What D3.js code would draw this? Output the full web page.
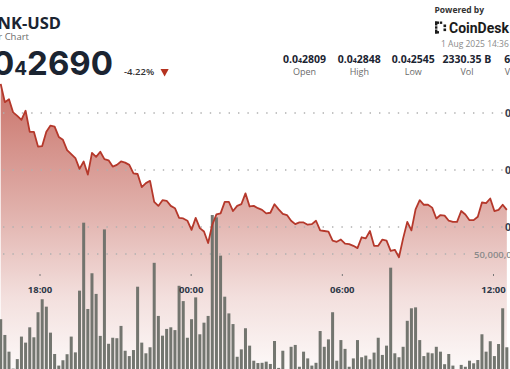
<!DOCTYPE html>
<html>
<head>
<meta charset="utf-8">
<script src="https://cdn.jsdelivr.net/npm/d3@7"></script>
<style>
  html, body { margin: 0; padding: 0; background: #fff; overflow: hidden; }
  svg { display: block; font-family: "Open Sans", "Noto Sans", sans-serif; }
</style>
</head>
<body>
<div id="chart"></div>
<script>
const width = 510, height = 369;

// header texts
const symbol = "BONK-USD";
const subtitle = "24 Hour Bar Chart";
const lastPrice = "0.0₄2690";
const change = "-4.22%";
const stamp = "1 Aug 2025 14:36";
const statValues = ["0.0₄2809", "0.0₄2848", "0.0₄2545", "2330.35 B", "61.97 M"];
const statLabels = ["Open", "High", "Low", "Vol", "Vol (USD)"];

// price, one per bar (x 1e-8 USD)
const prices = [
  2851, 2819, 2824, 2801, 2795, 2788, 2804, 2767, 2767, 2741,
  2742, 2767, 2778, 2776, 2758, 2753, 2735, 2728, 2721, 2702,
  2715, 2692, 2730, 2723, 2732, 2719, 2717, 2706, 2709, 2715,
  2713, 2709, 2694, 2693, 2670, 2677, 2681, 2644, 2637, 2647,
  2646, 2637, 2633, 2616, 2615, 2611, 2595, 2616, 2598, 2592,
  2572, 2604, 2622, 2624, 2644, 2644, 2628, 2637, 2640, 2659,
  2636, 2637, 2633, 2630, 2624, 2625, 2640, 2631, 2623, 2621,
  2611, 2605, 2608, 2608, 2604, 2605, 2611, 2594, 2593, 2592,
  2576, 2574, 2578, 2571, 2570, 2567, 2563, 2582, 2580, 2593,
  2567, 2567, 2578, 2576, 2558, 2560, 2547, 2580, 2609, 2594,
  2631, 2647, 2639, 2639, 2634, 2615, 2621, 2620, 2611, 2609,
  2609, 2628, 2622, 2612, 2612, 2618, 2643, 2642, 2650, 2628,
  2630, 2639, 2630
];

// volume per bar, millions
const volumes = [
  21.9, 15.1, 7.9, 0.6, 4.7, 14.4, 11.8, 18.4, 14.1, 24.9,
  30.5, 27.3, 16.1, 6.9, 1.9, 4.2, 6.8, 14.4, 7.6, 34.2,
  63.5, 26.3, 41.7, 32.8, 14.7, 60.6, 11.3, 13.9, 13.7, 19.0,
  8.3, 6.0, 8.6, 35.9, 11.8, 7.2, 9.8, 46.2, 23.3, 14.8,
  17.7, 18.4, 17.2, 36.3, 29.7, 13.9, 21.9, 31.3, 15.4, 20.4,
  23.3, 66.8, 65.8, 49.3, 31.6, 24.4, 19.8, 5.7, 8.9, 18.0,
  10.5, 4.0, 3.0, 3.1, 3.6, 2.6, 12.5, 0.9, 8.3, 0.3,
  10.0, 10.8, 1.4, 7.9, 5.0, 1.9, 3.1, 16.8, 10.0, 13.2,
  24.9, 4.0, 12.9, 9.1, 1.4, 5.0, 12.9, 5.5, 6.2, 4.6,
  7.5, 13.9, 6.5, 10.5, 44.1, 7.2, 5.5, 10.0, 21.2, 26.6,
  27.0, 12.9, 6.0, 7.5, 7.2, 10.0, 7.9, 2.5, 6.9, 1.9,
  0.3, 2.2, 1.4, 4.0, 2.9, 4.3, 15.4, 7.9, 12.4, 6.0,
  11.2, 26.6, 9.8
];

const tickDates = [
  new Date(2025, 6, 31, 18, 0), new Date(2025, 7, 1, 0, 0),
  new Date(2025, 7, 1, 6, 0), new Date(2025, 7, 1, 12, 0)
];
const priceTicks = [2600, 2700, 2800];
const volumeTicks = [50000000];

const firstBar = new Date(2025, 6, 31, 16, 27, 36);
const stepMs = 9.88 * 60000;

const data = prices.map((p, i) => ({
  date: new Date(+firstBar + i * stepMs),
  price: p,
  volume: volumes[i] * 1e6
}));

const x = d3.scaleTime().domain([tickDates[0], tickDates[3]]).range([39.5, 493]);
const y = d3.scaleLinear().domain([2600, 2800]).range([227, 113]);
const yVol = d3.scaleLinear().domain([0, 50000000]).range([370, 254]);

const svg = d3.select("#chart").append("svg")
    .attr("width", width)
    .attr("height", height);

const defs = svg.append("defs");
const grad = defs.append("linearGradient")
    .attr("id", "fade")
    .attr("gradientUnits", "userSpaceOnUse")
    .attr("x1", 0).attr("y1", 80).attr("x2", 0).attr("y2", 370);
grad.append("stop").attr("offset", 0).attr("stop-color", "#b33a2d").attr("stop-opacity", 0.72);
grad.append("stop").attr("offset", 0.45).attr("stop-color", "#b33a2d").attr("stop-opacity", 0.4);
grad.append("stop").attr("offset", 0.75).attr("stop-color", "#b33a2d").attr("stop-opacity", 0.16);
grad.append("stop").attr("offset", 1).attr("stop-color", "#b33a2d").attr("stop-opacity", 0.03);

// area under the price
const area = d3.area()
    .x(d => x(d.date))
    .y0(height)
    .y1(d => y(d.price));

svg.append("path")
    .datum(data)
    .attr("d", area)
    .attr("fill", "url(#fade)");

// dotted grid
svg.selectAll(".grid")
  .data(priceTicks)
  .join("line")
    .attr("class", "grid")
    .attr("x1", 3).attr("x2", 503)
    .attr("y1", d => y(d)).attr("y2", d => y(d))
    .attr("stroke", "#b0b0b0")
    .attr("stroke-width", 1.4)
    .attr("stroke-dasharray", "1.4 8");

svg.selectAll(".vgrid")
  .data(volumeTicks)
  .join("line")
    .attr("class", "vgrid")
    .attr("x1", 3).attr("x2", 470)
    .attr("y1", d => yVol(d)).attr("y2", d => yVol(d))
    .attr("stroke", "#b0b0b0")
    .attr("stroke-width", 1.4)
    .attr("stroke-dasharray", "1.4 8");

// volume bars
svg.selectAll(".bar")
  .data(data)
  .join("rect")
    .attr("class", "bar")
    .attr("x", d => x(d.date) - 1.5)
    .attr("width", 3)
    .attr("y", d => yVol(d.volume))
    .attr("height", d => yVol(0) - yVol(d.volume))
    .attr("fill", "#6c6f68")
    .attr("fill-opacity", 0.95);

// price line
const line = d3.line()
    .x(d => x(d.date))
    .y(d => y(d.price));

svg.append("path")
    .datum(data)
    .attr("d", line)
    .attr("fill", "none")
    .attr("stroke", "#b5382b")
    .attr("stroke-width", 1.8)
    .attr("stroke-linejoin", "round");

// helper for the 0.0₄xxxx notation
function subText(sel, str, subSize) {
  const parts = str.split("₄");
  sel.append("tspan").text(parts[0]);
  if (parts.length > 1) {
    sel.append("tspan").attr("font-size", subSize).text("4");
    sel.append("tspan").text(parts[1]);
  }
}

const fmtPrice = p => "0.0₄" + p;

// right price labels
svg.selectAll(".plabel")
  .data(priceTicks)
  .join("text")
    .attr("class", "plabel")
    .attr("x", 505)
    .attr("y", d => y(d) + 4)
    .attr("font-size", 10.5)
    .attr("font-weight", 700)
    .attr("fill", "#3a4150")
    .each(function(d) { subText(d3.select(this), fmtPrice(d), 7); });

svg.selectAll(".vlabel")
  .data(volumeTicks)
  .join("text")
    .attr("class", "vlabel")
    .attr("x", 474)
    .attr("y", d => yVol(d) + 4)
    .attr("font-size", 9.5)
    .attr("font-weight", 600)
    .attr("fill", "#8a8a8a")
    .text(d => d3.format(",")(d));

// time axis
const xAxis = svg.append("g")
    .attr("transform", "translate(0,274)")
    .call(d3.axisBottom(x).tickValues(tickDates).tickFormat(d3.timeFormat("%H:%M")).tickSize(2).tickPadding(10));
xAxis.select(".domain").remove();
xAxis.selectAll(".tick line").attr("stroke", "#777");
xAxis.selectAll(".tick text")
    .attr("font-family", "'Open Sans', sans-serif")
    .attr("font-size", 9.5)
    .attr("font-weight", 700)
    .attr("fill", "#2e3848");

// header left
svg.append("text")
    .attr("x", 61).attr("y", 28.5)
    .attr("text-anchor", "end")
    .attr("font-size", 16.5).attr("font-weight", 700)
    .attr("fill", "#1b2431")
    .text(symbol);

svg.append("text")
    .attr("x", 29).attr("y", 40)
    .attr("text-anchor", "end")
    .attr("font-size", 9.5)
    .attr("fill", "#6b6b6b")
    .text(subtitle);

svg.append("text")
    .attr("x", 113).attr("y", 75)
    .attr("text-anchor", "end")
    .attr("font-family", "Inter, sans-serif")
    .attr("font-size", 33).attr("font-weight", 700)
    .attr("fill", "#1b2431")
    .call(s => subText(s, lastPrice, 19));

svg.append("text")
    .attr("x", 124).attr("y", 75)
    .attr("font-size", 9.5).attr("font-weight", 600)
    .attr("fill", "#333")
    .text(change);

svg.append("path")
    .attr("d", "M160.5,69 L168.7,69 L164.6,76.5 Z")
    .attr("fill", "#b5321f");

// header right
svg.append("text")
    .attr("x", 434.5).attr("y", 13)
    .attr("font-size", 8.5).attr("font-weight", 700)
    .attr("fill", "#333")
    .text("Powered by");

const logo = svg.append("g").attr("transform", "translate(435,21.5)").attr("fill", "#1b1b1b");
[[0,0,4,2.4],[0,0,2.4,4],[0,4.8,2.4,2.4],[0,8,2.4,4],[0,9.6,4,2.4],[4.8,0,2.4,2.4],[8.5,3,2.6,2.6],[8.5,7,2.6,2.6]]
  .forEach(r => logo.append("rect").attr("x", r[0]).attr("y", r[1]).attr("width", r[2]).attr("height", r[3]));

svg.append("text")
    .attr("x", 449).attr("y", 32.5)
    .attr("font-family", "Roboto, sans-serif")
    .attr("font-size", 14).attr("font-weight", 700)
    .attr("fill", "#1b1b1b")
    .text("CoinDesk");

svg.append("text")
    .attr("x", 441).attr("y", 47)
    .attr("font-size", 8.5)
    .attr("fill", "#8a8a8a")
    .text(stamp);

const statX = [304.5, 359.3, 413.3, 467, 524];
statValues.forEach((v, i) => {
  svg.append("text")
      .attr("x", statX[i]).attr("y", 62.5)
      .attr("text-anchor", "middle")
      .attr("font-size", 10.5).attr("font-weight", 700)
      .attr("fill", "#1b2431")
      .call(s => subText(s, v, 7));
  svg.append("text")
      .attr("x", statX[i]).attr("y", 74.5)
      .attr("text-anchor", "middle")
      .attr("font-size", 9)
      .attr("fill", "#6b6b6b")
      .text(statLabels[i]);
});
</script>
</body>
</html>
